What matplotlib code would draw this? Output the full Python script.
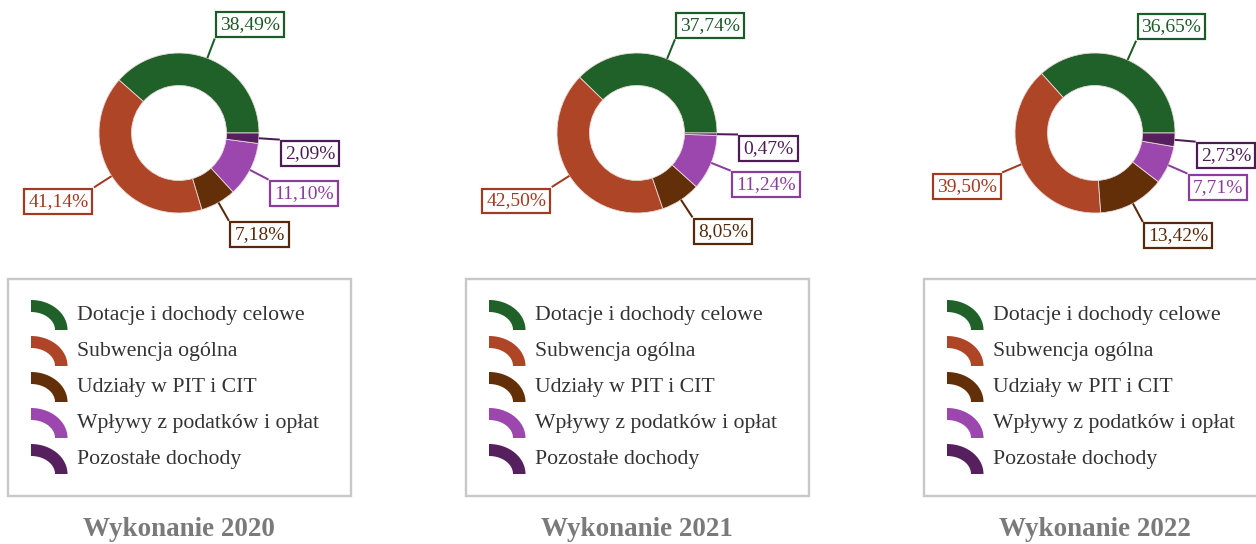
import numpy as np
import matplotlib
matplotlib.use("Agg")
import matplotlib.pyplot as plt
from matplotlib.patches import Rectangle, Polygon

# ---- data ----
categories = ["Dotacje i dochody celowe", "Subwencja ogólna", "Udziały w PIT i CIT",
              "Wpływy z podatków i opłat", "Pozostałe dochody"]
values_2020 = [38.49, 41.14, 7.18, 11.10, 2.09]
values_2021 = [37.74, 42.50, 8.05, 11.24, 0.47]
values_2022 = [36.65, 39.50, 13.42, 7.71, 2.73]
titles = ["Wykonanie 2020", "Wykonanie 2021", "Wykonanie 2022"]

slice_colors = ["#1f6129", "#ae4527", "#622f08", "#9c47ad", "#56205e"]
label_colors = ["#1c5a27", "#a03b22", "#57290a", "#8a3d9c", "#4c1c54"]

W, H = 1256, 544
fig = plt.figure(figsize=(W / 100, H / 100), dpi=100)
ax = fig.add_axes([0, 0, 1, 1])

SERIF = ["Liberation Serif", "DejaVu Serif"]
PX = 72 / 100  # points per pixel

def fmt(v):
    return f"{v:.2f}".replace(".", ",") + "%"

centers_x = [179, 637, 1095]
cy = H - 133
R_OUT, R_IN = 80, 47.5
R_LBL = 101
lbl_fs_px = 19.5
pad = 0.2

for k, vals in enumerate([values_2020, values_2021, values_2022]):
    cx = centers_x[k]
    ax.pie(vals, colors=slice_colors, center=(cx, cy), radius=R_OUT,
           startangle=0, counterclock=True,
           wedgeprops=dict(width=R_OUT - R_IN, edgecolor="#e8d8d8", linewidth=0.6))
    # labels
    total = sum(vals)
    cum = 0.0
    for i, v in enumerate(vals):
        mid = np.deg2rad((cum + v / 2) / total * 360)
        cum += v
        c, s = np.cos(mid), np.sin(mid)
        x0, y0 = cx + R_OUT * c, cy + R_OUT * s
        x1, y1 = cx + R_LBL * c, cy + R_LBL * s
        ax.plot([x0, x1], [y0, y1], color=label_colors[i], lw=2 * PX, solid_capstyle="butt")
        off = pad * lbl_fs_px + 1.5
        ha = "left" if c >= 0 else "right"
        va = "bottom" if s > 0 else "top"
        tx = x1 + (off if c >= 0 else -off)
        ty = y1 + (off if s > 0 else -off)
        ax.text(tx, ty, fmt(v), ha=ha, va=va, color=label_colors[i],
                fontsize=lbl_fs_px * PX, family=SERIF,
                bbox=dict(boxstyle=f"square,pad={pad}", facecolor="white",
                          edgecolor=label_colors[i], linewidth=2.2 * PX))

    # legend box
    bx = 8 + 458 * k
    btop, bbot = H - 279, H - 496
    ax.add_patch(Rectangle((bx, bbot), 343, btop - bbot, facecolor="white",
                           edgecolor="#c8c8c8", linewidth=2.4 * PX, clip_on=True))
    for i, name in enumerate(categories):
        ycen_img = 330 + 36 * i
        ox, oy = bx + 23, H - ycen_img
        t = np.linspace(0, np.pi / 2, 40)
        rx_o, ry_o = 36.5, 30
        rx_i, ry_i = 24, 18
        outer = np.column_stack([ox + rx_o * np.cos(t), oy + ry_o * np.sin(t)])
        inner = np.column_stack([ox + rx_i * np.cos(t[::-1]), oy + ry_i * np.sin(t[::-1])])
        ax.add_patch(Polygon(np.vstack([outer, inner]), closed=True,
                             facecolor=slice_colors[i], edgecolor="none"))
        ax.text(bx + 69, H - (320 + 36 * i), name, ha="left", va="baseline",
                fontsize=21.8 * PX, family=SERIF, color="#333333")

    ax.text(cx, H - 536, titles[k], ha="center", va="baseline", fontsize=27 * PX,
            family=SERIF, fontweight="bold", color="#7a7a7a")

ax.set_xlim(0, W)
ax.set_ylim(0, H)
ax.set_aspect("auto")
ax.axis("off")
fig.savefig("out.png", dpi=100)
